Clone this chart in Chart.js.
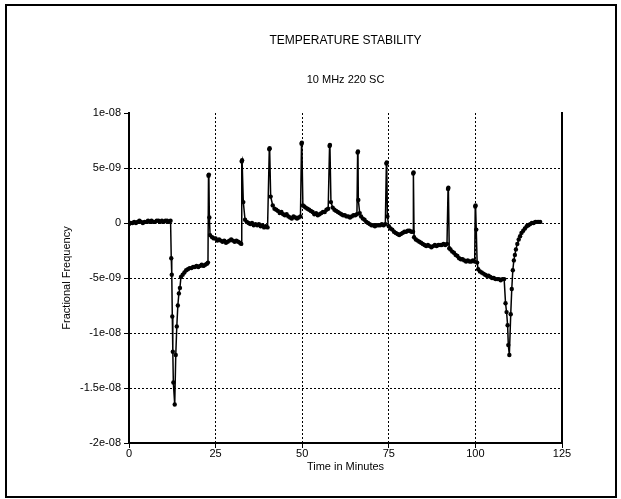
<!DOCTYPE html>
<html>
<head>
<meta charset="utf-8">
<title>Temperature Stability</title>
<script src="https://cdn.jsdelivr.net/npm/chart.js@4.4.1/dist/chart.umd.min.js"></script>
<style>
  body{margin:0;background:#fff;}
  #wrap{position:relative;width:621px;height:499px;}
  #frame{position:absolute;left:5px;top:4px;width:612px;height:494px;box-sizing:border-box;border:2px solid #000;pointer-events:none;}
  canvas{display:block;}
</style>
</head>
<body>
<div id="wrap">
  <canvas id="tempChart" width="621" height="499"></canvas>
  <div id="frame"></div>
</div>
<script>
// time in minutes, one line per stretch of the run
let minutes = [
  0.0,0.5,1.0,1.5,2.0,2.5,3.0,3.5,4.0,4.5,5.0,5.5,6.0,6.5,7.0,7.5,8.0,8.5,9.0,9.5,10.0,10.5,11.0,11.5,12.0,
  12.2,12.35,12.5,12.65,12.8,13.2,13.5,13.8,14.1,14.4,14.7,15.0,
  15.5,16.0,16.5,17.0,17.5,18.0,18.5,19.0,19.5,20.0,20.5,21.0,21.5,22.0,22.5,22.8,
  22.95,23.05,23.2,23.4,
  24.0,24.5,25.0,25.5,26.0,26.5,27.0,27.5,28.0,28.5,29.0,29.5,30.0,30.5,31.0,31.5,32.0,32.4,
  32.55,32.65,33.0,33.5,
  34.0,34.5,35.0,35.5,36.0,36.5,37.0,37.5,38.0,38.5,39.0,39.5,40.0,
  40.5,40.6,40.9,41.5,
  42.0,42.5,43.0,43.5,44.0,44.5,45.0,45.5,46.0,46.5,47.0,47.5,48.0,48.5,49.0,49.5,
  49.8,49.9,50.2,
  50.6,51.0,51.5,52.0,52.5,53.0,53.5,54.0,54.5,55.0,55.5,56.0,56.5,57.0,57.5,
  57.9,58.0,58.3,
  58.8,59.3,59.8,60.3,60.8,61.3,61.8,62.3,62.8,63.3,63.8,64.3,64.8,65.3,65.8,
  66.0,66.1,66.2,66.6,
  67.0,67.5,68.0,68.5,69.0,69.5,70.0,70.5,71.0,71.5,72.0,72.5,73.0,73.5,74.0,
  74.3,74.4,74.6,
  75.0,75.5,76.0,76.5,77.0,77.5,78.0,78.5,79.0,79.5,80.0,80.5,81.0,81.5,82.0,
  82.05,82.15,82.3,
  82.8,83.3,83.8,84.3,84.8,85.3,85.8,86.3,86.8,87.3,87.8,88.3,88.8,89.3,89.8,90.3,90.8,91.3,91.8,
  92.1,92.2,92.45,
  92.8,93.3,93.8,94.3,94.8,95.3,95.8,96.3,96.8,97.3,97.8,98.3,98.8,99.3,99.8,
  99.95,100.05,100.25,100.5,
  100.8,101.3,101.8,102.3,102.8,103.3,103.8,104.3,104.8,105.3,105.8,106.3,106.8,107.3,107.8,108.3,
  108.7,109.0,109.3,109.5,109.8,110.2,110.5,110.8,111.1,111.4,111.7,112.1,112.5,112.9,113.3,113.8,114.3,114.8,115.3,115.8,116.3,116.8,117.3,117.8,118.3,118.7
]
// fractional frequency, in units of 1e-9
let fracFreq = [
  -0.1,0.0,0.0,0.1,0.0,0.1,0.2,0.1,0.0,0.1,0.1,0.2,0.1,0.2,0.1,0.1,0.2,0.2,0.1,0.2,0.1,0.2,0.2,0.1,0.2,
  -3.2,-4.7,-8.5,-11.7,-14.5,-16.5,-12.0,-9.4,-7.5,-6.4,-5.9,-4.9,
  -4.7,-4.5,-4.3,-4.2,-4.1,-4.1,-4.0,-4.0,-3.9,-4.0,-3.9,-3.8,-3.9,-3.8,-3.7,-3.6,
  4.3,4.4,0.5,-1.1,
  -1.3,-1.4,-1.4,-1.6,-1.5,-1.6,-1.7,-1.6,-1.8,-1.7,-1.6,-1.5,-1.6,-1.7,-1.6,-1.7,-1.8,-1.9,
  5.6,5.7,1.9,0.3,
  0.1,0.0,-0.1,0.0,-0.2,-0.1,-0.2,-0.1,-0.3,-0.2,-0.4,-0.3,-0.4,
  6.7,6.8,2.4,1.6,
  1.3,1.2,1.1,0.9,1.0,0.8,0.7,0.8,0.6,0.5,0.4,0.6,0.5,0.4,0.5,0.6,
  7.2,7.3,1.6,
  1.5,1.4,1.3,1.2,1.1,1.0,0.8,0.9,0.7,0.8,0.9,1.0,1.0,1.2,1.3,
  7.0,7.1,1.9,
  1.4,1.2,1.1,1.0,0.9,0.8,0.7,0.7,0.6,0.6,0.5,0.6,0.7,0.7,0.8,
  6.4,6.5,2.1,0.9,
  0.6,0.4,0.3,0.1,0.0,-0.1,-0.2,-0.2,-0.3,-0.2,-0.2,-0.2,-0.1,-0.2,-0.1,
  5.4,5.5,0.6,
  -0.3,-0.5,-0.6,-0.8,-0.9,-1.0,-1.1,-1.0,-0.9,-0.8,-0.8,-0.7,-0.7,-0.8,-0.8,
  4.5,4.6,-1.3,
  -1.5,-1.6,-1.7,-1.8,-1.9,-2.0,-2.1,-2.0,-2.1,-2.2,-2.1,-2.0,-2.1,-2.0,-2.0,-2.0,-1.9,-2.0,-1.9,
  3.1,3.2,-2.3,
  -2.4,-2.6,-2.7,-2.9,-3.0,-3.2,-3.3,-3.3,-3.4,-3.5,-3.4,-3.5,-3.5,-3.4,-3.5,
  1.5,1.6,-0.6,-3.6,
  -4.2,-4.4,-4.5,-4.6,-4.7,-4.8,-4.8,-4.9,-5.0,-5.0,-5.1,-5.1,-5.1,-5.2,-5.1,-5.1,
  -7.3,-8.1,-9.3,-11.1,-12.0,-8.3,-6.0,-4.3,-3.4,-2.9,-2.4,-1.9,-1.5,-1.2,-0.9,-0.7,-0.5,-0.3,-0.2,-0.1,0.0,0.0,0.1,0.1,0.1,0.1
]
let xTickValues = [0,25,50,75,100,125]
let yTickValues = [10,5,0,-5,-10,-15,-20]
let yTickLabels = ['1e-08','5e-09','0','-5e-09','-1e-08','-1.5e-08','-2e-08']

if(minutes.length !== fracFreq.length){
  console.warn('length mismatch', minutes.length, fracFreq.length)
}
let points = []
for(let i=0;i<Math.min(minutes.length,fracFreq.length);i++){
  points.push({x:minutes[i], y:fracFreq[i]})
}

Chart.defaults.font.family = '"Liberation Sans", Arial, sans-serif'
Chart.defaults.color = '#000'

let fixTicks = vals => scale => {
  scale.ticks = vals.map(v => ({value:v}))
}

new Chart(document.getElementById('tempChart'), {
  type: 'line',
  data: {
    datasets: [{
      data: points,
      borderColor: '#000',
      borderWidth: 1.5,
      pointRadius: 2.2,
      pointBackgroundColor: '#000',
      pointBorderWidth: 0,
      tension: 0,
      fill: false
    }]
  },
  options: {
    responsive: false,
    animation: false,
    layout: {padding: {top: 0, left: 10, right: 59, bottom: 16}},
    plugins: {
      legend: {display: false},
      tooltip: {enabled: false},
      title: {
        display: true,
        text: 'TEMPERATURE STABILITY',
        fullSize: false,
        font: {size: 12, weight: 'normal'},
        padding: {top: 33.8, bottom: 0}
      },
      subtitle: {
        display: true,
        text: '10 MHz 220 SC',
        fullSize: false,
        color: '#000',
        font: {size: 11},
        padding: {top: 25.2, bottom: 26.4}
      }
    },
    scales: {
      x: {
        type: 'linear',
        min: 0,
        max: 125,
        afterBuildTicks: fixTicks(xTickValues),
        afterFit: s => { s.height = 40 },
        ticks: {font: {size: 11}, padding: -1, maxRotation: 0, callback: v => String(v)},
        grid: {color: '#000', lineWidth: 1, tickLength: 5, tickColor: '#000', tickWidth: 1, tickBorderDash: []},
        border: {display: true, color: '#000', width: 2, dash: [2,2]},
        title: {display: true, text: 'Time in Minutes', font: {size: 11}, padding: {top: 0, bottom: 9.6}}
      },
      y: {
        type: 'linear',
        min: -20,
        max: 10,
        afterBuildTicks: fixTicks(yTickValues),
        afterFit: s => { s.width = 119 },
        ticks: {
          font: {size: 11},
          padding: 3,
          callback: v => {
            let i = yTickValues.indexOf(v)
            return i >= 0 ? yTickLabels[i] : ''
          }
        },
        grid: {
          color: c => (c.tick && c.tick.value === 10) ? 'rgba(0,0,0,0)' : '#000',
          lineWidth: 1, tickLength: 5, tickColor: '#000', tickWidth: 1, tickBorderDash: []
        },
        border: {display: true, color: '#000', width: 2, dash: [2,2]},
        title: {display: true, text: 'Fractional Frequency', font: {size: 11}, padding: {top: 50.4, bottom: 0}}
      },
      yRight: {
        type: 'linear',
        position: 'right',
        min: -20,
        max: 10,
        afterFit: s => { s.width = 0 },
        ticks: {display: false},
        grid: {display: false, drawTicks: false},
        border: {display: true, color: '#000', width: 2}
      }
    }
  }
})
</script>
</body>
</html>
